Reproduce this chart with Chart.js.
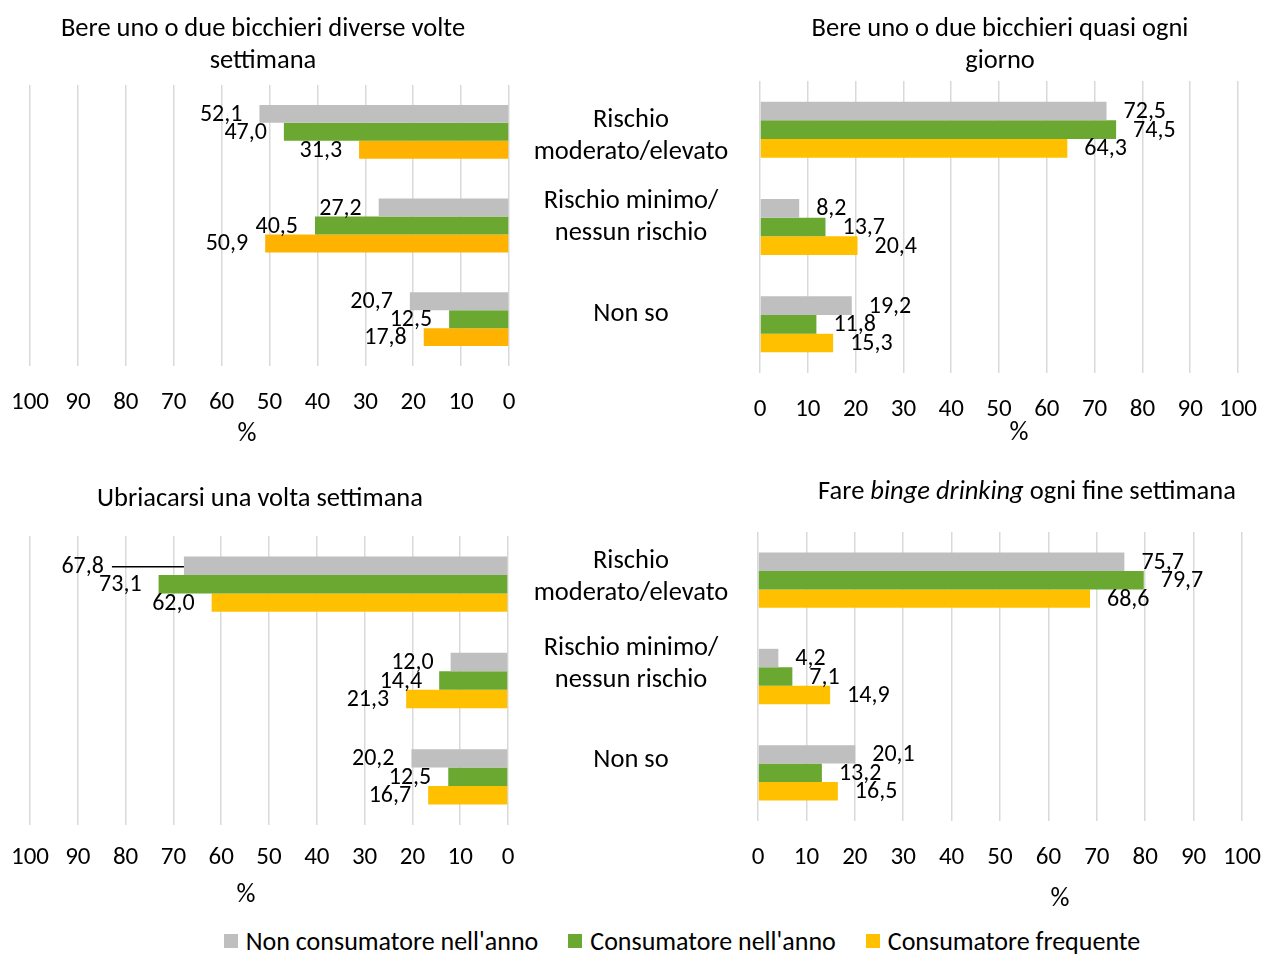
<!DOCTYPE html>
<html>
<head>
<meta charset="utf-8">
<script src="https://cdn.jsdelivr.net/npm/chart.js@4.4.1/dist/chart.umd.min.js"></script>
<style>
    html, body { margin: 0; padding: 0; background: #fff; }
    body {
        width: 1264px; height: 954px; position: relative; overflow: hidden;
        font-family: Carlito, Lato, sans-serif; color: #000;
    }
    canvas { position: absolute; }
    .txt { position: absolute; font-size: 26.5px; line-height: 32px; text-align: center; white-space: nowrap; }
    .legend { position: absolute; left: 0; width: 1364px; top: 926px; display: flex; justify-content: center; font-size: 26px; line-height: 30px; }
    .legend span.item { display: flex; align-items: center; margin: 0 15px; }
    .legend i.sw { display: inline-block; width: 14px; height: 14px; margin-right: 8px; }
</style>
</head>
<body>

<canvas id="chart-tl" width="560" height="450" style="left:0;top:0"></canvas>
<canvas id="chart-tr" width="600" height="450" style="left:720px;top:0"></canvas>
<canvas id="chart-bl" width="560" height="450" style="left:0;top:470px"></canvas>
<canvas id="chart-br" width="600" height="450" style="left:720px;top:470px"></canvas>

<div id="overlay"></div>
<div class="legend" id="legend"></div>

<script>
// ── Dati ─────────────────────────────────────────────────────────────────────
const categories    = ['Rischio moderato/elevato', 'Rischio minimo/nessun rischio', 'Non so'];
const categoryLines = [['Rischio', 'moderato/elevato'], ['Rischio minimo/', 'nessun rischio'], ['Non so']];
const seriesNames   = ["Non consumatore nell'anno", "Consumatore nell'anno", 'Consumatore frequente'];
const xTicks        = [0, 10, 20, 30, 40, 50, 60, 70, 80, 90, 100];

// Bere uno o due bicchieri diverse volte settimana
const settimanaNon  = [52.1, 27.2, 20.7];
const settimanaAnno = [47.0, 40.5, 12.5];
const settimanaFreq = [31.3, 50.9, 17.8];

// Bere uno o due bicchieri quasi ogni giorno
const giornoNon  = [72.5, 8.2, 19.2];
const giornoAnno = [74.5, 13.7, 11.8];
const giornoFreq = [64.3, 20.4, 15.3];

// Ubriacarsi una volta settimana
const ubriacoNon  = [67.8, 12.0, 20.2];
const ubriacoAnno = [73.1, 14.4, 12.5];
const ubriacoFreq = [62.0, 21.3, 16.7];

// Fare binge drinking ogni fine settimana
const bingeNon  = [75.7, 4.2, 20.1];
const bingeAnno = [79.7, 7.1, 13.2];
const bingeFreq = [68.6, 14.9, 16.5];

// ── Stile ────────────────────────────────────────────────────────────────────
const FONT   = 'Carlito, Lato, sans-serif';
const GREY   = '#BFBFBF';
const GREEN  = '#6AA832';
const YELLOW = '#FFC000';

function formatValue(v) {
    return v.toFixed(1).replace('.', ',');
}

// etichette dei valori a fine barra
const barValues = {
    id: 'barValues',
    afterDatasetsDraw(chart, args, opts) {
        const ctx = chart.ctx;
        ctx.save();
        ctx.font = `24px ${FONT}`;
        ctx.fillStyle = '#000';
        ctx.textBaseline = 'middle';
        chart.data.datasets.forEach((ds, di) => {
            chart.getDatasetMeta(di).data.forEach((bar, ci) => {
                const nudge = (opts.nudge || []).find(n => n.ds === di && n.cat === ci);
                const gap = 17 + (nudge ? nudge.extra : 0);
                const y = bar.y + 1;
                let x;
                if (opts.side === 'left') { ctx.textAlign = 'right'; x = bar.x - gap; }
                else                      { ctx.textAlign = 'left';  x = bar.x + gap; }
                ctx.fillText(formatValue(ds.data[ci]), x, y);
                if (nudge && nudge.leader) {
                    ctx.beginPath();
                    ctx.moveTo(x + 8, y);
                    ctx.lineTo(bar.x, y);
                    ctx.strokeStyle = '#000';
                    ctx.lineWidth = 1.5;
                    ctx.stroke();
                }
            });
        });
        ctx.restore();
    }
};

function makeChart(id, p) {
    return new Chart(document.getElementById(id), {
        type: 'bar',
        data: {
            labels: categories,
            datasets: p.values.map((vals, i) => ({
                label: seriesNames[i],
                data: vals,
                backgroundColor: p.colors[i],
                borderWidth: 0,
                categoryPercentage: 0.575,
                barPercentage: 1.0,
            })),
        },
        options: {
            indexAxis: 'y',
            responsive: false,
            animation: false,
            layout: { padding: p.padding },
            plugins: {
                legend:  { display: false },
                tooltip: { enabled: false },
                barValues: { side: p.side, nudge: p.nudge || [] },
            },
            scales: {
                x: {
                    min: 0, max: 100,
                    reverse: p.side === 'left',
                    afterBuildTicks: s => { s.ticks = xTicks.map(v => ({ value: v })); },
                    afterFit: s => { s.height = 60; },
                    grid:   { color: '#D9D9D9', lineWidth: 1.5, drawTicks: false },
                    border: { display: false },
                    ticks:  { padding: p.tickPad, color: '#000', autoSkip: false, maxRotation: 0,
                              font: { family: FONT, size: 25 } },
                },
                y: { display: false },
            },
        },
        plugins: [barValues],
    });
}

makeChart('chart-tl', {
    values: [settimanaNon, settimanaAnno, settimanaFreq],
    colors: [GREY, GREEN, '#FFB300'],
    side: 'left', tickPad: 22,
    padding: { left: 30, right: 51, top: 85, bottom: 24 },
});
makeChart('chart-tr', {
    values: [giornoNon, giornoAnno, giornoFreq],
    colors: [GREY, GREEN, YELLOW],
    side: 'right', tickPad: 22,
    padding: { left: 40, right: 82, top: 81, bottom: 17 },
});
makeChart('chart-bl', {
    values: [ubriacoNon, ubriacoAnno, ubriacoFreq],
    colors: [GREY, GREEN, YELLOW],
    side: 'left', tickPad: 18,
    padding: { left: 30, right: 52, top: 66, bottom: 35 },
    nudge: [{ ds: 0, cat: 0, extra: 63, leader: true }],
});
makeChart('chart-br', {
    values: [bingeNon, bingeAnno, bingeFreq],
    colors: [GREY, GREEN, YELLOW],
    side: 'right', tickPad: 22,
    padding: { left: 38, right: 78, top: 62, bottom: 39 },
});

// ── Testi: titoli, categorie, unità ──────────────────────────────────────────
const overlay = document.getElementById('overlay');
function addText(html, cx, top) {
    const d = document.createElement('div');
    d.className = 'txt';
    d.style.left  = (cx - 300) + 'px';
    d.style.width = '600px';
    d.style.top   = top + 'px';
    d.innerHTML = html;
    overlay.appendChild(d);
}

addText('Bere uno o due bicchieri diverse volte<br>settimana', 263, 11);
addText('Bere uno o due bicchieri quasi ogni<br>giorno', 1000, 11);
addText('Ubriacarsi una volta settimana', 260, 481);
addText('Fare <i>binge drinking</i> ogni fine settimana', 1027, 474);

const catTopsUpper = [102, 183, 296];
const catTopsLower = [543, 630, 742];
categoryLines.forEach((lines, i) => {
    addText(lines.join('<br>'), 631, catTopsUpper[i]);
    addText(lines.join('<br>'), 631, catTopsLower[i]);
});

addText('%', 247, 416);
addText('%', 1019, 415);
addText('%', 246, 877);
addText('%', 1060, 881);

// ── Legenda ──────────────────────────────────────────────────────────────────
const legendColors = [GREY, GREEN, YELLOW];
document.getElementById('legend').innerHTML = seriesNames.map((name, i) =>
    `<span class="item"><i class="sw" style="background:${legendColors[i]}"></i>${name}</span>`
).join('');
</script>
</body>
</html>
